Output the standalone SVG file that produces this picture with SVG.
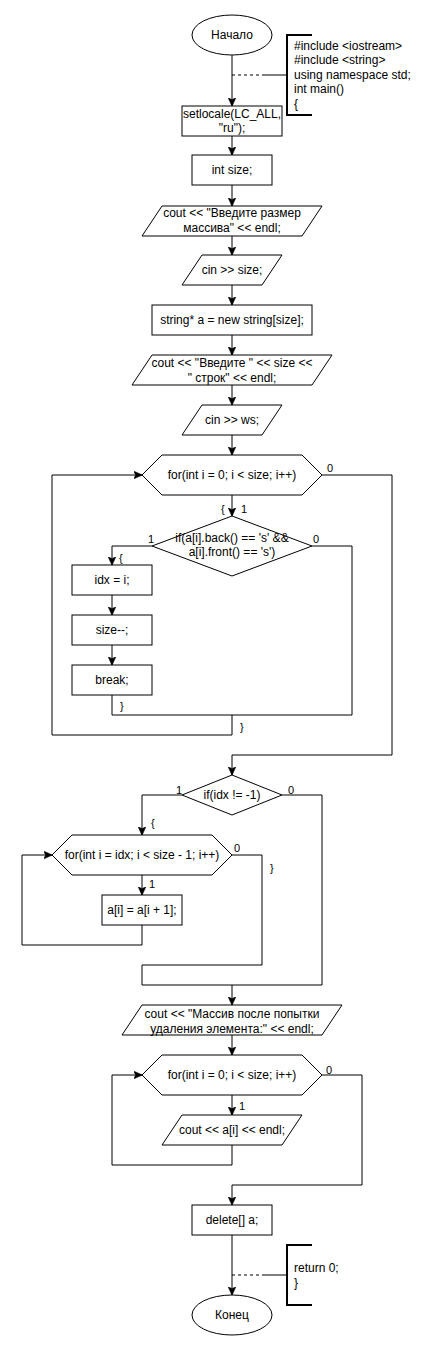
<svg xmlns="http://www.w3.org/2000/svg" width="442" height="1369" viewBox="0 0 442 1369">
<style>
.s{fill:#fff;stroke:#000;stroke-width:1}
.t{font-family:"Liberation Sans",Arial,sans-serif;font-size:12px;fill:#000;text-anchor:middle}
.a{font-family:"Liberation Sans",Arial,sans-serif;font-size:12px;fill:#000}
.l{font-family:"Liberation Sans",Arial,sans-serif;font-size:11px;fill:#000}
.c{fill:none;stroke:#000;stroke-width:1}
.ar{marker-end:url(#arr)}
.d{fill:none;stroke:#000;stroke-width:1;stroke-dasharray:3,3}
.b{fill:none;stroke:#000;stroke-width:2}
</style>
<defs>
<marker id="arr" markerUnits="userSpaceOnUse" markerWidth="9" markerHeight="9" viewBox="0 0 9 9" refX="8.5" refY="4.5" orient="auto">
<path d="M0,0.5 L9,4.5 L0,8.5 L2.2,4.5 Z" fill="#000" stroke="#000" stroke-width="0.5"/>
</marker>
</defs>
<rect width="442" height="1369" fill="#fff"/>
<g id="connectors">
<path class="c ar" d="M232,55 V106"/>
<path class="c ar" d="M232,136 V155"/>
<path class="c ar" d="M232,185 V206"/>
<path class="c ar" d="M232,236 V255"/>
<path class="c ar" d="M232,285 V305"/>
<path class="c ar" d="M232,335 V355"/>
<path class="c ar" d="M232,385 V405"/>
<path class="c ar" d="M232,435 V455"/>
<path class="c ar" d="M232,495 V516"/>
<path class="c ar" d="M152,546 H112 V565"/>
<path class="c ar" d="M112,595 V615"/>
<path class="c ar" d="M112,645 V665"/>
<path class="c ar" d="M112,695 V715 H232 V735 H52 V475 H142"/>
<path class="c" d="M312,546 H352 V715 H232"/>
<path class="c ar" d="M322,475 H392 V755 H232 V775"/>
<path class="c ar" d="M182,795 H142 V835"/>
<path class="c ar" d="M142,875 V895"/>
<path class="c ar" d="M142,925 V945 H22 V855 H52"/>
<path class="c ar" d="M232,855 H262 V965 H142 V985 H232 V1005"/>
<path class="c" d="M282,795 H322 V985 H232"/>
<path class="c ar" d="M232,1035 V1055"/>
<path class="c ar" d="M232,1095 V1115"/>
<path class="c ar" d="M232,1145 V1165 H112 V1075 H142"/>
<path class="c ar" d="M322,1075 H362 V1185 H232 V1205"/>
<path class="c ar" d="M232,1235 V1295"/>
<path class="d" d="M232,75 H263"/>
<path class="c" d="M263,75 H287"/>
<path class="d" d="M232,1275 H262"/>
<path class="c" d="M262,1275 H287"/>
<text class="l" x="327" y="472">0</text>
<text class="l" x="221" y="513">{</text>
<text class="l" x="241" y="513">1</text>
<text class="l" x="148" y="543">1</text>
<text class="l" x="313" y="543">0</text>
<text class="l" x="119" y="562">{</text>
<text class="l" x="120" y="710">}</text>
<text class="l" x="240" y="731">}</text>
<text class="l" x="176" y="794">1</text>
<text class="l" x="288" y="794">0</text>
<text class="l" x="151" y="827">{</text>
<text class="l" x="234" y="852">0</text>
<text class="l" x="270" y="872">}</text>
<text class="l" x="149" y="888">1</text>
<text class="l" x="326" y="1074">0</text>
<text class="l" x="239" y="1110">1</text>
</g>
<g id="start">
<ellipse class="s" cx="232" cy="35" rx="40" ry="20"/>
<text class="t" x="232" y="39">Начало</text>
</g>
<g id="note-top">
<path class="b" d="M312,35 H287 V115 H312"/>
<text class="a" x="294" y="49.5">#include &lt;iostream&gt;</text>
<text class="a" x="294" y="64">#include &lt;string&gt;</text>
<text class="a" x="294" y="78.5">using namespace std;</text>
<text class="a" x="294" y="93">int main()</text>
<text class="a" x="294" y="107.5">{</text>
</g>
<g id="setlocale">
<rect class="s" x="182" y="106" width="100" height="30"/>
<text class="t" x="232" y="117.5">setlocale(LC_ALL,</text>
<text class="t" x="232" y="132">"ru");</text>
</g>
<g id="intsize">
<rect class="s" x="192" y="155" width="80" height="30"/>
<text class="t" x="232" y="174">int size;</text>
</g>
<g id="out1">
<path class="s" d="M162,206 H322 L302,236 H142 Z"/>
<text class="t" x="232" y="217">cout &lt;&lt; "Введите размер</text>
<text class="t" x="232" y="232">массива" &lt;&lt; endl;</text>
</g>
<g id="in1">
<path class="s" d="M202,255 H282 L262,285 H182 Z"/>
<text class="t" x="232" y="274">cin &gt;&gt; size;</text>
</g>
<g id="alloc">
<rect class="s" x="152" y="305" width="160" height="30"/>
<text class="t" x="232" y="324">string* a = new string[size];</text>
</g>
<g id="out2">
<path class="s" d="M152,355 H332 L312,385 H132 Z"/>
<text class="t" x="232" y="367">cout &lt;&lt; "Введите " &lt;&lt; size &lt;&lt;</text>
<text class="t" x="232" y="382">" строк" &lt;&lt; endl;</text>
</g>
<g id="in2">
<path class="s" d="M202,405 H282 L262,435 H182 Z"/>
<text class="t" x="232" y="424">cin &gt;&gt; ws;</text>
</g>
<g id="for1">
<path class="s" d="M142,475 L162,455 H302 L322,475 L302,495 H162 Z"/>
<text class="t" x="232" y="479">for(int i = 0; i &lt; size; i++)</text>
</g>
<g id="if1">
<path class="s" d="M232,516 L312,546 L232,576 L152,546 Z"/>
<text class="t" x="232" y="542">if(a[i].back() == 's' &amp;&amp;</text>
<text class="t" x="232" y="556">a[i].front() == 's')</text>
</g>
<g id="idx">
<rect class="s" x="72" y="565" width="80" height="30"/>
<text class="t" x="112" y="584">idx = i;</text>
</g>
<g id="dec">
<rect class="s" x="72" y="615" width="80" height="30"/>
<text class="t" x="112" y="634">size--;</text>
</g>
<g id="brk">
<rect class="s" x="72" y="665" width="80" height="30"/>
<text class="t" x="112" y="684">break;</text>
</g>
<g id="if2">
<path class="s" d="M232,775 L282,795 L232,815 L182,795 Z"/>
<text class="t" x="232" y="799">if(idx != -1)</text>
</g>
<g id="for2">
<path class="s" d="M52,855 L72,835 H212 L232,855 L212,875 H72 Z"/>
<text class="t" x="142" y="859">for(int i = idx; i &lt; size - 1; i++)</text>
</g>
<g id="shift">
<rect class="s" x="102" y="895" width="80" height="30"/>
<text class="t" x="142" y="914">a[i] = a[i + 1];</text>
</g>
<g id="out3">
<path class="s" d="M142,1005 H342 L322,1035 H122 Z"/>
<text class="t" x="232" y="1017.5">cout &lt;&lt; "Массив после попытки</text>
<text class="t" x="232" y="1033">удаления элемента:" &lt;&lt; endl;</text>
</g>
<g id="for3">
<path class="s" d="M142,1075 L162,1055 H302 L322,1075 L302,1095 H162 Z"/>
<text class="t" x="232" y="1079">for(int i = 0; i &lt; size; i++)</text>
</g>
<g id="out4">
<path class="s" d="M182,1115 H302 L282,1145 H162 Z"/>
<text class="t" x="232" y="1134">cout &lt;&lt; a[i] &lt;&lt; endl;</text>
</g>
<g id="del">
<rect class="s" x="192" y="1205" width="80" height="30"/>
<text class="t" x="232" y="1224">delete[] a;</text>
</g>
<g id="note-bottom">
<path class="b" d="M312,1245 H287 V1305 H312"/>
<text class="a" x="294" y="1272">return 0;</text>
<text class="a" x="294" y="1286.5">}</text>
</g>
<g id="end">
<ellipse class="s" cx="232" cy="1315" rx="40" ry="20"/>
<text class="t" x="232" y="1319">Конец</text>
</g>
</svg>
